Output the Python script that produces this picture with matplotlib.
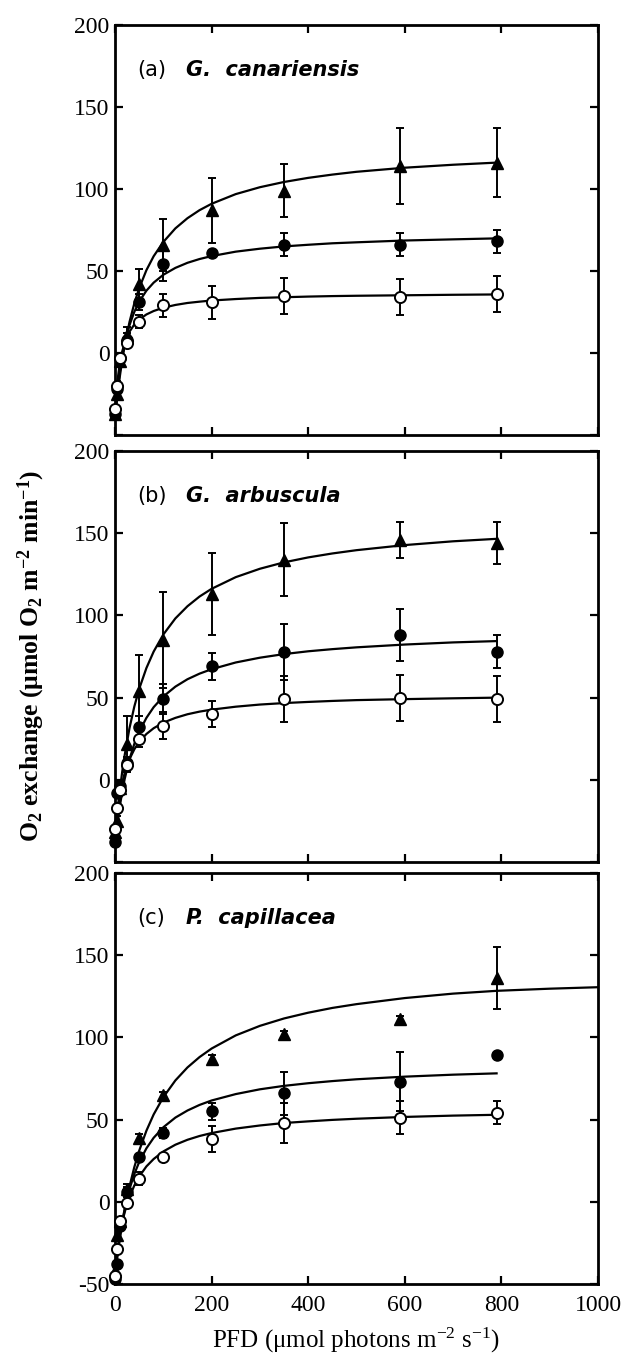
import matplotlib
matplotlib.use("Agg")
import matplotlib.pyplot as plt

plt.rcParams['font.family'] = ['Liberation Serif', 'DejaVu Serif']
plt.rcParams['mathtext.fontset'] = 'custom'
plt.rcParams['mathtext.rm'] = 'Liberation Serif'
plt.rcParams['mathtext.it'] = 'Liberation Serif:italic'
plt.rcParams['mathtext.bf'] = 'Liberation Serif:bold'
plt.rcParams['axes.unicode_minus'] = False

# PFD levels of the measurements
pfd = [0, 5, 10, 25, 50, 100, 200, 350, 590, 790]
# PFD points at which the fitted curves were read
fit_pfd = [0, 5, 10, 15, 20, 30, 40, 50, 65, 80, 100, 125, 150, 175, 200,
           250, 300, 350, 400, 450, 500, 600, 700, 790]
fit_pfd_long = fit_pfd + [900, 1000]

# (a) G. canariensis
a_tri = [-37, -25, -5, 11, 42, 66, 87, 99, 114, 116]
a_tri_err = [2, 3, 3, 5, 9, 16, 20, 16, 23, 21]
a_fill = [-37, -22, -3, 8, 31, 54, 61, 66, 66, 68]
a_fill_err = [3, 3, 3, 4, 5, 10, 2, 7, 7, 7]
a_open = [-34, -20, -3, 6, 19, 29, 31, 35, 34, 36]
a_open_err = [2, 3, 3, 3, 4, 7, 10, 11, 11, 11]
a_tri_fit = [-40, -26.1, -14.3, -4.2, 4.5, 18.9, 30.3, 39.5, 50.5, 59, 67.7, 76, 82.2, 87.1, 91,
             96.9, 101.1, 104.3, 106.8, 108.8, 110.5, 113, 114.8, 116.1]
a_fill_fit = [-40, -23.7, -11.5, -2, 5.6, 17, 25.1, 31.3, 38, 42.9, 47.7, 51.9, 55, 57.3, 59.1,
              61.8, 63.6, 65, 66, 66.9, 67.5, 68.6, 69.3, 69.9]
a_open_fit = [-35, -17, -6.2, 1, 6.1, 13, 17.4, 20.4, 23.5, 25.6, 27.6, 29.3, 30.5, 31.3, 32,
              32.9, 33.6, 34, 34.4, 34.7, 34.9, 35.2, 35.5, 35.7]

# (b) G. arbuscula
b_tri = [-32, -25, -5, 22, 54, 85, 113, 134, 146, 144]
b_tri_err = [2, 3, 4, 17, 22, 29, 25, 22, 11, 13]
b_fill = [-38, -8, -4, 10, 32, 49, 69, 78, 88, 78]
b_fill_err = [2, 3, 4, 4, 7, 9, 8, 17, 16, 10]
b_open = [-30, -17, -6, 9, 25, 33, 40, 49, 50, 49]
b_open_err = [2, 3, 3, 3, 5, 8, 8, 14, 14, 14]
b_tri_fit = [-35, -19.5, -6.3, 5.1, 15, 31.5, 44.6, 55.3, 68, 78, 88.4, 98.2, 105.6, 111.5, 116.2,
             123.3, 128.4, 132.3, 135.3, 137.7, 139.7, 142.8, 145.1, 146.6]
b_fill_fit = [-40, -26.8, -16.1, -7.1, 0.5, 12.6, 21.9, 29.2, 37.7, 44.2, 50.7, 56.7, 61.2, 64.6, 67.3,
              71.4, 74.3, 76.5, 78.2, 79.5, 80.6, 82.3, 83.6, 84.4]
b_open_fit = [-32, -18.8, -9.1, -1.7, 4.1, 12.6, 18.6, 23.1, 27.9, 31.4, 34.8, 37.7, 39.9, 41.5, 42.7,
              44.5, 45.8, 46.7, 47.4, 48, 48.5, 49.1, 49.6, 50]

# (c) P. capillacea
c_tri = [-42, -20, -12, 8, 39, 65, 87, 102, 111, 136]
c_tri_err = [1, 2, 2, 3, 2, 2, 2, 2, 2, 19]
c_fill = [-47, -38, -15, 6, 27, 42, 55, 66, 73, 89]
c_fill_err = [1, 2, 2, 3, 2, 3, 5, 13, 18, 1]
c_open = [-45, -29, -12, -1, 14, 27, 38, 48, 51, 54]
c_open_err = [1, 2, 2, 2, 4, 2, 8, 12, 10, 7]
c_tri_fit = [-45, -33.1, -22.6, -13.3, -5, 9.3, 21.1, 31, 43.2, 53.1, 63.6, 73.8, 81.7, 88, 93.2,
             101.2, 107, 111.5, 115, 117.9, 120.2, 123.9, 126.6, 128.3, 129.6, 130.5]
c_fill_fit = [-45, -31.7, -20.9, -11.9, -4.4, 7.7, 16.9, 24.1, 32.5, 38.9, 45.3, 51.2, 55.5, 58.9, 61.6,
              65.5, 68.4, 70.5, 72.1, 73.4, 74.5, 76.1, 77.3, 78.1]
c_open_fit = [-40, -28.7, -19.7, -12.4, -6.4, 3, 9.9, 15.3, 21.5, 26, 30.6, 34.7, 37.7, 40, 41.8,
              44.5, 46.4, 47.9, 48.9, 49.8, 50.5, 51.6, 52.4, 52.9]

panel_tags = ['(a)', '(b)', '(c)']
species = ['G.  canariensis', 'G.  arbuscula', 'P.  capillacea']

panels = [
    (a_tri, a_tri_err, a_fill, a_fill_err, a_open, a_open_err,
     fit_pfd, a_tri_fit, a_fill_fit, a_open_fit),
    (b_tri, b_tri_err, b_fill, b_fill_err, b_open, b_open_err,
     fit_pfd, b_tri_fit, b_fill_fit, b_open_fit),
    (c_tri, c_tri_err, c_fill, c_fill_err, c_open, c_open_err,
     fit_pfd_long, c_tri_fit, c_fill_fit, c_open_fit),
]

fig = plt.figure(figsize=(6.21, 13.61), dpi=100)
boxes = [[0.1852, 0.6804, 0.7778, 0.3012],
         [0.1852, 0.3666, 0.7778, 0.3020],
         [0.1852, 0.0566, 0.7778, 0.3020]]

for i in range(3):
    tri, tri_err, fill, fill_err, opn, opn_err, tri_fx, tri_fit, fill_fit, opn_fit = panels[i]
    ax = fig.add_axes(boxes[i])

    ax.plot(tri_fx, tri_fit, color='k', lw=1.6, zorder=2)
    ax.plot(fit_pfd, fill_fit, color='k', lw=1.6, zorder=2)
    ax.plot(fit_pfd, opn_fit, color='k', lw=1.6, zorder=2)

    for y, e in [(tri, tri_err), (fill, fill_err), (opn, opn_err)]:
        ax.errorbar(pfd, y, yerr=e, fmt='none', ecolor='k', elinewidth=1.4,
                    capsize=3.2, capthick=1.4, zorder=3)

    # markers at PFD = 0 sit on the spine, so do not clip them
    ax.plot(pfd, tri, linestyle='none', marker='^', ms=9, color='k', zorder=4,
            clip_on=False)
    ax.plot(pfd, fill, linestyle='none', marker='o', ms=8, color='k', zorder=4,
            clip_on=False)
    ax.plot(pfd, opn, linestyle='none', marker='o', ms=8, mfc='white', mec='k',
            mew=1.4, zorder=5, clip_on=False)

    ax.set_xlim(0, 1000)
    ax.set_ylim(-50, 200)
    ax.set_xticks([0, 200, 400, 600, 800, 1000])
    ax.set_yticks([-50, 0, 50, 100, 150, 200])
    if i < 2:
        ax.set_yticklabels(['', '0', '50', '100', '150', '200'])
        ax.set_xticklabels([])
    else:
        ax.set_yticklabels(['-50', '0', '50', '100', '150', '200'])
    ax.tick_params(direction='in', top=True, right=True, length=6, width=1.6,
                   labelsize=17, pad=4)
    ax.tick_params(axis='x', pad=8)
    for s in ax.spines.values():
        s.set_linewidth(2.0)

    ax.text(0.047, 0.876, panel_tags[i], transform=ax.transAxes, fontsize=15,
            family='DejaVu Sans', va='baseline')
    ax.text(0.148, 0.876, species[i], transform=ax.transAxes, fontsize=15,
            family='DejaVu Sans', fontweight='bold', fontstyle='italic', va='baseline')

fig.text(0.050, 0.518,
         r'O$_\mathbf{2}$ exchange (μmol O$_\mathbf{2}$ m$^\mathbf{-2}$ min$^\mathbf{-1}$)',
         rotation=90, ha='center', va='center', fontsize=18.5, fontweight='bold')
fig.text(0.573, 0.010, r'PFD (μmol photons m$^{-2}$ s$^{-1}$)',
         ha='center', va='baseline', fontsize=18)

fig.savefig('out.png', dpi=100)
